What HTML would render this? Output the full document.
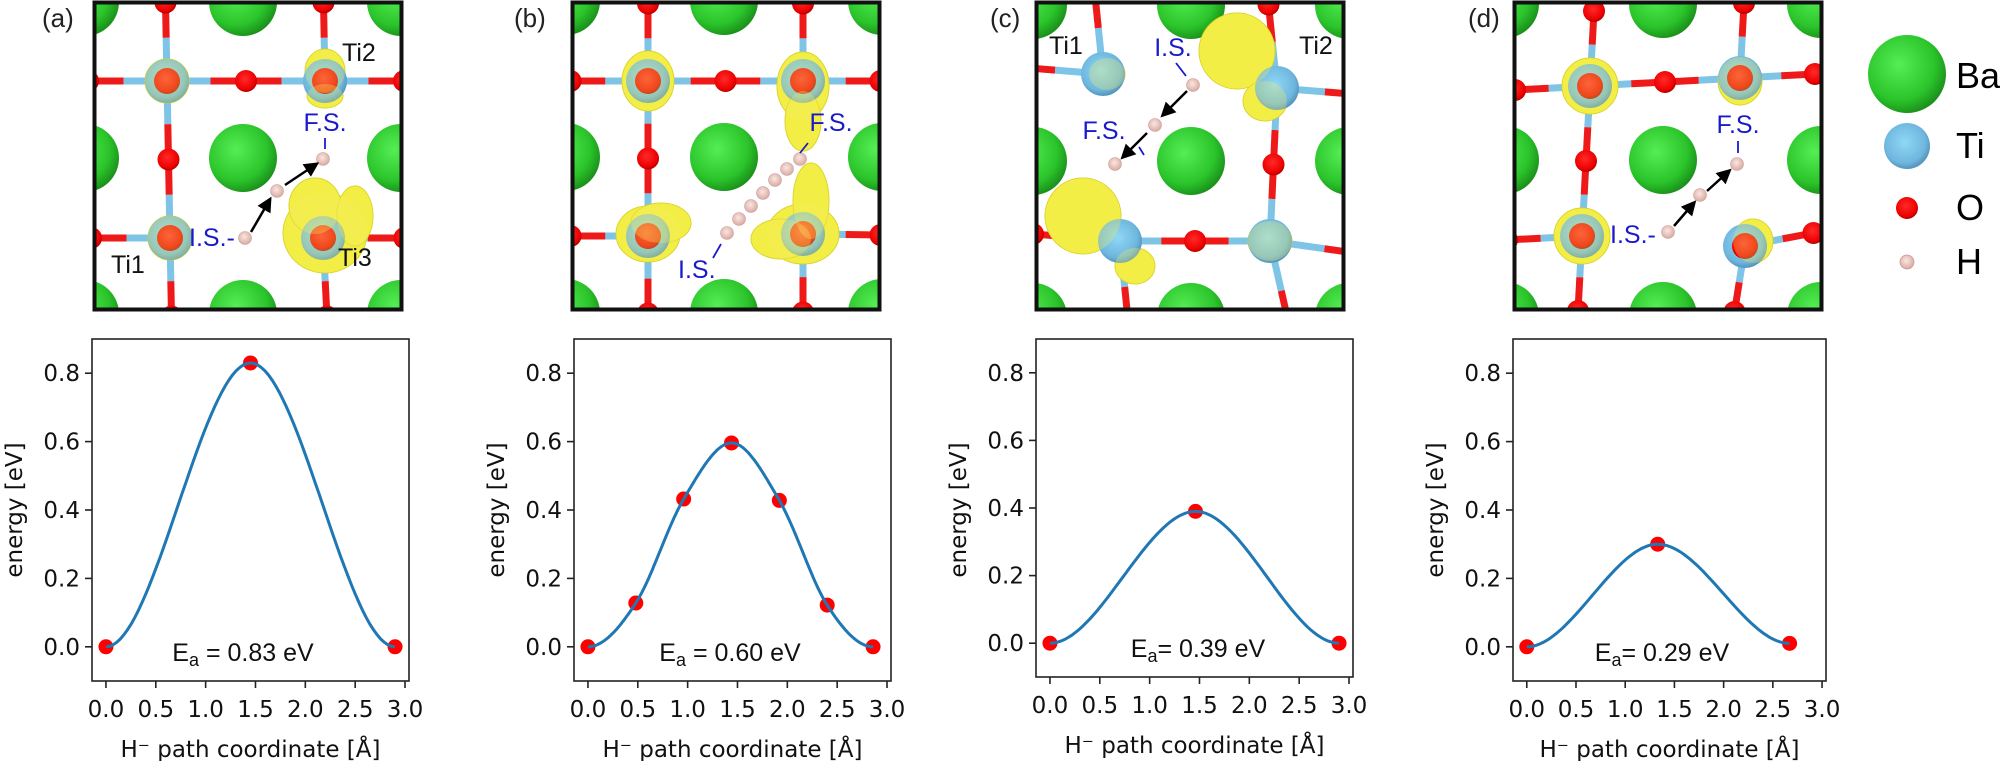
<!DOCTYPE html>
<html><head><meta charset="utf-8"><style>
html,body{margin:0;padding:0;background:#fff;}
svg{display:block;font-family:"DejaVu Sans","Liberation Sans",sans-serif;}
</style></head><body>
<svg id="fig" width="2000" height="761" viewBox="0 0 2000 761" xmlns="http://www.w3.org/2000/svg">
<defs>
<radialGradient id="gBa" cx="40%" cy="38%" r="65%"><stop offset="0" stop-color="#55ee55"/><stop offset="0.7" stop-color="#2bc42b"/><stop offset="1" stop-color="#1a8f1a"/></radialGradient>
<radialGradient id="gTi" cx="45%" cy="42%" r="60%"><stop offset="0" stop-color="#8fd8f6"/><stop offset="0.75" stop-color="#6fb6de"/><stop offset="1" stop-color="#4f8fb8"/></radialGradient>
<radialGradient id="gO" cx="45%" cy="40%" r="60%"><stop offset="0" stop-color="#ff2a2a"/><stop offset="0.8" stop-color="#ee0000"/><stop offset="1" stop-color="#b00000"/></radialGradient>
<radialGradient id="gH" cx="45%" cy="40%" r="60%"><stop offset="0" stop-color="#fbe6e0"/><stop offset="1" stop-color="#d8aaa2"/></radialGradient>
<marker id="arr" markerWidth="6" markerHeight="6" refX="4" refY="3" orient="auto"><path d="M0,0 L6,3 L0,6 z" fill="#000"/></marker>
</defs>
<g id="structures"></g>
<g id="charts"></g>
<g id="legend">
<circle cx="1907" cy="74" r="39" fill="url(#gBa)"/>
<text x="1956" y="88" font-size="36" font-family="Liberation Sans, sans-serif">Ba</text>
<circle cx="1907" cy="146" r="23" fill="url(#gTi)"/>
<text x="1956" y="158" font-size="36" font-family="Liberation Sans, sans-serif">Ti</text>
<circle cx="1907" cy="208" r="11" fill="url(#gO)"/>
<text x="1956" y="220" font-size="36" font-family="Liberation Sans, sans-serif">O</text>
<circle cx="1907" cy="262" r="7" fill="url(#gH)" stroke="#c99" stroke-width="0.8"/>
<text x="1956" y="274" font-size="36" font-family="Liberation Sans, sans-serif">H</text>
</g>
</svg>
<script>
// ---- chart data ----
const xTicks = [0, 0.5, 1.0, 1.5, 2.0, 2.5, 3.0];
const yTicks = [0, 0.2, 0.4, 0.6, 0.8];
const xTickLabels = ["0.0","0.5","1.0","1.5","2.0","2.5","3.0"];
const yTickLabels = ["0.0","0.2","0.4","0.6","0.8"];
const aX = [0, 1.45, 2.90];
const aY = [0, 0.83, 0];
const bX = [0, 0.48, 0.96, 1.44, 1.92, 2.40, 2.86];
const bY = [0, 0.128, 0.432, 0.596, 0.428, 0.122, 0];
const cX = [0, 1.46, 2.90];
const cY = [0, 0.39, 0];
const dX = [0, 1.33, 2.67];
const dY = [0, 0.30, 0.01];
const eaLabels = ["0.83", "0.60", "0.39", "0.29"];
const eaSep = [" = ", " = ", "= ", "= "];
const panelLetters = ["(a)", "(b)", "(c)", "(d)"];

const NS = "http://www.w3.org/2000/svg";
function mk(tag, attrs, parent) {
  const el = document.createElementNS(NS, tag);
  for (const k in attrs) el.setAttribute(k, attrs[k]);
  if (parent) parent.appendChild(el);
  return el;
}

// ---- charts ----
const axesBoxes = [
  {left: 92, top: 339, w: 317, h: 342, ex: 243},
  {left: 574, top: 339, w: 317, h: 342, ex: 730},
  {left: 1036, top: 339, w: 317, h: 338, ex: 1198},
  {left: 1513, top: 339, w: 313, h: 342, ex: 1662}
];
const series = [[aX, aY], [bX, bY], [cX, cY], [dX, dY]];
const XMIN = -0.14, XMAX = 3.04, YMIN = -0.1, YMAX = 0.9;

function hermite(xs, ys) {
  const n = xs.length, m = [];
  for (let i = 0; i < n; i++) {
    if (i === 0 || i === n - 1) { m.push(0); continue; }
    const isExt = (ys[i] - ys[i-1]) * (ys[i+1] - ys[i]) <= 0;
    m.push(isExt ? 0 : (ys[i+1] - ys[i-1]) / (xs[i+1] - xs[i-1]));
  }
  const pts = [];
  for (let i = 0; i < n - 1; i++) {
    const h = xs[i+1] - xs[i];
    for (let s = 0; s <= 40; s++) {
      const t = s / 40, t2 = t*t, t3 = t2*t;
      const y = (2*t3-3*t2+1)*ys[i] + (t3-2*t2+t)*h*m[i] + (-2*t3+3*t2)*ys[i+1] + (t3-t2)*h*m[i+1];
      pts.push([xs[i] + t*h, y]);
    }
  }
  return pts;
}

const charts = document.getElementById('charts');
axesBoxes.forEach((ax, p) => {
  const sx = v => ax.left + (v - XMIN) / (XMAX - XMIN) * ax.w;
  const sy = v => ax.top + (YMAX - v) / (YMAX - YMIN) * ax.h;
  const g = mk('g', {}, charts);
  
  
  const frame = mk('rect', {x: ax.left, y: ax.top, width: ax.w, height: ax.h, fill: 'none', stroke: '#222', 'stroke-width': 1.6}, g);
  
  
  xTicks.forEach((t, i) => {
    const x = sx(t);
    const tk = mk('line', {x1: x, x2: x, y1: ax.top + ax.h, y2: ax.top + ax.h + 7, stroke: '#222', 'stroke-width': 1.6}, g);
    
    
    const tl = mk('text', {x: x, y: ax.top + ax.h + 36, 'font-size': 23, 'text-anchor': 'middle', fill: '#111'}, g);
    tl.textContent = xTickLabels[i];
    
    
  });
  yTicks.forEach((t, i) => {
    const y = sy(t);
    const tk = mk('line', {x1: ax.left - 7, x2: ax.left, y1: y, y2: y, stroke: '#222', 'stroke-width': 1.6}, g);
    
    
    const tl = mk('text', {x: ax.left - 12, y: y + 8, 'font-size': 23, 'text-anchor': 'end', fill: '#111'}, g);
    tl.textContent = yTickLabels[i];
    
    
  });
  const ylab = mk('text', {x: 0, y: 0, 'font-size': 23, 'text-anchor': 'middle', fill: '#111', transform: 'translate(' + (ax.left - 70) + ',' + (ax.top + 171) + ') rotate(-90)'}, g);
  ylab.textContent = 'energy [eV]';
  
  
  const xlab = mk('text', {x: ax.left + ax.w / 2, y: ax.top + ax.h + 76, 'font-size': 23, 'text-anchor': 'middle', fill: '#111'}, g);
  xlab.textContent = 'H\u207B path coordinate [\u00C5]';
  
  

  const xs = series[p][0], ys = series[p][1];
  xs.forEach((v, i) => {
    const dot = mk('circle', {cx: sx(v), cy: sy(ys[i]), r: 7.5, fill: '#ff0000'}, g);
    
    
  });
  const pts = hermite(xs, ys);
  const line = mk('path', {d: pts.map((q, i) => (i ? 'L' : 'M') + sx(q[0]).toFixed(1) + ',' + sy(q[1]).toFixed(1)).join(' '), fill: 'none', stroke: '#1f77b4', 'stroke-width': 3}, g);
  
  

  const ea = mk('text', {x: ax.ex, y: ax.top + ax.h - 20, 'font-size': 25, 'text-anchor': 'middle', 'font-family': 'Liberation Sans, sans-serif', fill: '#111'}, g);
  
  
  const t1 = mk('tspan', {}, ea); t1.textContent = 'E';
  const t2 = mk('tspan', {'font-size': 18, dy: 5}, ea); t2.textContent = 'a';
  const t3 = mk('tspan', {dy: -5}, ea); t3.textContent = eaSep[p] + eaLabels[p] + ' eV';
});

// ---- structure images (illustrations) ----
const boxes = [
  {x: 93, y: 1, lx: 42},
  {x: 571, y: 1, lx: 514},
  {x: 1035, y: 1, lx: 990},
  {x: 1513, y: 1, lx: 1468}
];
const structs = [
  {ti: [[74,80],[232,80],[77,237],[230,237]], ba: [150,157], oTop: true,
   blobs: [[232,232,42,40],[222,205,26,28],[262,215,18,30],[232,70,20,22],[232,95,18,12],[74,80,22,22],[77,237,22,22]],
   h: [[152,237],[184,190],[230,158]], arrows: [[158,231,176,200],[192,184,222,164]],
   labels: [["F.S.",232,130,"#1a1acc","middle"],["I.S.-",96,245,"#1a1acc","start"],["Ti1",18,272,"#111","start"],["Ti2",249,60,"#111","start"],["Ti3",245,265,"#111","start"]],
   ticks: [[232,137,232,148]]},
  {ti: [[77,80],[232,80],[77,235],[232,233]], ba: [153,156], oTop: true,
   blobs: [[77,80,26,30],[232,85,26,34],[232,120,18,30],[77,233,32,28],[90,222,30,20],[232,233,36,30],[240,200,18,38],[210,238,30,20]],
   h: [[156,232],[168,218],[180,205],[192,192],[204,179],[216,168],[229,158]], arrows: [],
   labels: [["F.S.",260,130,"#1a1acc","middle"],["I.S.",107,277,"#1a1acc","start"]],
   ticks: [[237,142,229,152],[150,243,142,257]]},
  {ti: [[68,73],[242,87],[85,240],[235,240]], ba: [156,160], oTop: false,
   blobs: [[202,50,38,38],[230,100,22,20],[48,215,38,38],[100,265,20,18],[72,73,18,16],[235,240,22,20]],
   h: [[158,84],[120,124],[80,163]], arrows: [[152,90,129,113],[112,132,89,155]],
   labels: [["I.S.",138,55,"#1a1acc","middle"],["F.S.",69,138,"#1a1acc","middle"],["Ti1",14,53,"#111","start"],["Ti2",264,53,"#111","start"]],
   ticks: [[141,62,151,75],[104,146,109,154]]},
  {ti: [[77,85],[227,77],[69,235],[232,245]], ba: [150,159], oTop: true,
   blobs: [[77,85,28,28],[227,80,22,24],[69,235,28,28],[240,240,20,22]],
   h: [[155,231],[187,194],[224,163]], arrows: [[161,225,180,203],[194,190,215,171]],
   labels: [["F.S.",225,132,"#1a1acc","middle"],["I.S.-",97,242,"#1a1acc","start"]],
   ticks: [[225,140,225,152]]}
];

const root = document.getElementById('structures');
structs.forEach((s, p) => {
  const b = boxes[p];
  const g = mk('g', {transform: 'translate(' + b.x + ',' + b.y + ')'}, root);
  
  
  const cid = 'clip' + p;
  const cp = mk('clipPath', {id: cid}, g);
  mk('rect', {x: 0, y: 0, width: 310, height: 310}, cp);
  const inner = mk('g', {'clip-path': 'url(#' + cid + ')'}, g);
  mk('rect', {x: 0, y: 0, width: 310, height: 310, fill: '#fff'}, inner);
  for (let i = -1; i <= 1; i++) for (let j = -1; j <= 1; j++) {
    const c = mk('circle', {cx: s.ba[0] + i * 158, cy: s.ba[1] + j * 156, r: 34, fill: 'url(#gBa)'}, inner);
    
    
  }
  const T = s.ti, vx = [T[1][0]-T[0][0], T[1][1]-T[0][1]], vy = [T[2][0]-T[0][0], T[2][1]-T[0][1]];
  const tp = (i, j) => {
    if (i >= 0 && i <= 1 && j >= 0 && j <= 1) return T[j*2+i];
    return [T[0][0] + i*vx[0] + j*vy[0], T[0][1] + i*vx[1] + j*vy[1]];
  };
  const nearH = m => s.h.some(h => Math.hypot(h[0]-m[0], h[1]-m[1]) < 16);
  const bonds = mk('g', {'stroke-width': 7}, inner);
  const os = [];
  for (let i = -1; i <= 2; i++) for (let j = -1; j <= 2; j++) {
    const a = tp(i, j);
    [[1,0],[0,1]].forEach(d => {
      const c = tp(i + d[0], j + d[1]);
      const m = [(a[0]+c[0])/2, (a[1]+c[1])/2];
      if (nearH(m)) return;
      const q1 = [a[0] + (m[0]-a[0])*0.55, a[1] + (m[1]-a[1])*0.55];
      const q2 = [c[0] + (m[0]-c[0])*0.55, c[1] + (m[1]-c[1])*0.55];
      mk('line', {x1: a[0], y1: a[1], x2: q1[0], y2: q1[1], stroke: '#7ec4e6'}, bonds);
      mk('line', {x1: q1[0], y1: q1[1], x2: q2[0], y2: q2[1], stroke: '#ee1a1a'}, bonds);
      mk('line', {x1: q2[0], y1: q2[1], x2: c[0], y2: c[1], stroke: '#7ec4e6'}, bonds);
      os.push(m);
    });
  }
  os.forEach(o => {
    const c = mk('circle', {cx: o[0], cy: o[1], r: 11, fill: 'url(#gO)'}, inner);
    
    
  });
  s.blobs.forEach(bl => {
    const e = mk('ellipse', {cx: bl[0], cy: bl[1], rx: bl[2], ry: bl[3], fill: '#f2ee3a', stroke: '#d8d020', 'stroke-width': 1}, inner);
    
    
  });
  for (let i = -1; i <= 2; i++) for (let j = -1; j <= 2; j++) {
    const a = tp(i, j);
    const c = mk('circle', {cx: a[0], cy: a[1], r: 22, fill: 'url(#gTi)'}, inner);
    
    
    if (s.oTop) {
      const o = mk('circle', {cx: a[0], cy: a[1], r: 13, fill: 'url(#gO)'}, inner);
      
      
    }
  }
  s.blobs.forEach(bl => {
    const e = mk('ellipse', {cx: bl[0], cy: bl[1], rx: bl[2], ry: bl[3], fill: '#f4f060', opacity: 0.3}, inner);
    
    
  });
  s.h.forEach(h => {
    const c = mk('circle', {cx: h[0], cy: h[1], r: 6.5, fill: 'url(#gH)', stroke: '#c9a09a', 'stroke-width': 0.6}, inner);
    
    
  });
  s.arrows.forEach(a => {
    const l = mk('line', {x1: a[0], y1: a[1], x2: a[2], y2: a[3], stroke: '#000', 'stroke-width': 2.5, 'marker-end': 'url(#arr)'}, inner);
    
    
  });
  s.ticks.forEach(t => {
    const l = mk('line', {x1: t[0], y1: t[1], x2: t[2], y2: t[3], stroke: '#1a1acc', 'stroke-width': 1.8}, inner);
    
    
  });
  s.labels.forEach(L => {
    const t = mk('text', {x: L[1], y: L[2], 'font-size': 25, fill: L[3], 'text-anchor': L[4], 'font-family': 'Liberation Sans, sans-serif'}, inner);
    t.textContent = L[0];
    
    
  });
  const fr = mk('rect', {x: 1.5, y: 1.5, width: 307, height: 307, fill: 'none', stroke: '#111', 'stroke-width': 4}, g);
  
  
  const pl = mk('text', {x: b.lx, y: 27, 'font-size': 26, fill: '#222', 'font-family': 'Liberation Sans, sans-serif'}, root);
  pl.textContent = panelLetters[p];
  
  
});
</script>
</body></html>
